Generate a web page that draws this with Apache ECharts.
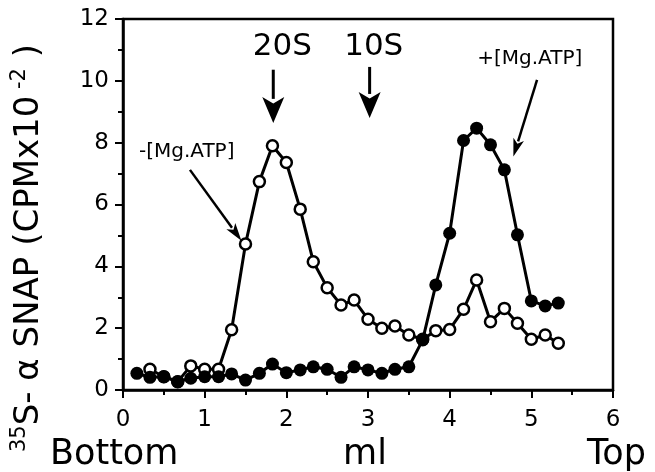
<!DOCTYPE html>
<html>
<head>
<meta charset="utf-8">
<script src="https://cdn.jsdelivr.net/npm/echarts@6/dist/echarts.min.js"></script>
<style>
html,body{margin:0;padding:0;background:#fff;}
#chart{width:655px;height:472px;}
</style>
</head>
<body>
<div id="chart"></div>
<script>
// fraction positions (ml from bottom of gradient)
const fractionMl = [0.17,0.33,0.5,0.67,0.83,1.0,1.17,1.33,1.5,1.67,1.83,2.0,2.17,2.33,2.5,2.67,2.83,3.0,3.17,3.33,3.5,3.67,3.83,4.0,4.17,4.33,4.5,4.67,4.83,5.0,5.17,5.33];
// +[Mg.ATP] (filled circles), CPM x 10^-2
const plusMgATP = [0.54,0.41,0.43,0.27,0.38,0.43,0.43,0.52,0.32,0.54,0.84,0.56,0.65,0.75,0.67,0.41,0.75,0.65,0.54,0.67,0.75,1.62,3.40,5.07,8.07,8.47,7.93,7.12,5.02,2.88,2.72,2.81];
// -[Mg.ATP] (open circles)
const minusMgATP = [null,0.67,0.43,0.27,0.78,0.67,0.67,1.95,4.72,6.74,7.90,7.36,5.85,4.15,3.31,2.75,2.91,2.29,2.00,2.07,1.78,1.64,1.92,1.96,2.61,3.56,2.21,2.64,2.16,1.64,1.78,1.51];
const xTicks = [0,1,2,3,4,5,6];
const yTicks = [0,2,4,6,8,10,12];
// annotations in data units
const markers = [
  {label:'20S', x:1.84, yFrom:10.36, yTo:8.64, tx:1.95, ty:11.1},
  {label:'10S', x:3.02, yFrom:10.45, yTo:8.80, tx:3.07, ty:11.1}
];
const conditionNotes = [
  {label:'-[Mg.ATP]', tx:0.78, ty:7.72, from:[0.82,7.12], to:[1.45,4.83]},
  {label:'+[Mg.ATP]', tx:4.98, ty:10.71, from:[5.07,10.03], to:[4.78,7.55]}
];

const FONT = 'DejaVu Sans';
const chart = echarts.init(document.getElementById('chart'));

function pairs(vals){
  const out = [];
  vals.forEach((v,i)=>{ if(v!==null) out.push([fractionMl[i], v]); });
  return out;
}

chart.setOption({
  animation:false,
  backgroundColor:'#fff',
  grid:{left:123, right:42, top:19, bottom:82, show:true, borderColor:'#000', borderWidth:2.5, backgroundColor:'transparent'},
  xAxis:{
    type:'value', min:xTicks[0], max:xTicks[xTicks.length-1], interval:1,
    axisLine:{show:true, onZero:false, lineStyle:{color:'#000', width:2.5}},
    axisTick:{show:true, inside:false, length:8, lineStyle:{color:'#000', width:2}},
    minorTick:{show:true, splitNumber:2, length:5, lineStyle:{color:'#000', width:2}},
    splitLine:{show:false},
    axisLabel:{color:'#000', fontFamily:FONT, fontSize:23, margin:19}
  },
  yAxis:{
    type:'value', min:yTicks[0], max:yTicks[yTicks.length-1], interval:2,
    axisLine:{show:true, lineStyle:{color:'#000', width:2.5}},
    axisTick:{show:true, inside:false, length:8, lineStyle:{color:'#000', width:2}},
    minorTick:{show:true, splitNumber:2, length:5, lineStyle:{color:'#000', width:2}},
    splitLine:{show:false},
    axisLabel:{color:'#000', fontFamily:FONT, fontSize:23, margin:14}
  },
  series:[
    {
      name:'-[Mg.ATP]', type:'line', data:pairs(minusMgATP), z:2,
      symbol:'circle', symbolSize:11, showAllSymbol:true,
      lineStyle:{color:'#000', width:3},
      itemStyle:{color:'#fff', borderColor:'#000', borderWidth:2.5}
    },
    {
      name:'+[Mg.ATP]', type:'line', data:pairs(plusMgATP), z:3,
      symbol:'circle', symbolSize:13, showAllSymbol:true,
      lineStyle:{color:'#000', width:3},
      itemStyle:{color:'#000', borderColor:'#000', borderWidth:0}
    }
  ]
});

function arrow(from, to, headLen, headW, lw){
  const dx = to[0]-from[0], dy = to[1]-from[1];
  const L = Math.sqrt(dx*dx+dy*dy);
  const ux = dx/L, uy = dy/L;
  const bx = to[0]-ux*headLen, by = to[1]-uy*headLen;
  const px = -uy, py = ux;
  return [
    {type:'line', shape:{x1:from[0], y1:from[1], x2:bx+ux*2, y2:by+uy*2}, style:{stroke:'#000', lineWidth:lw}, z:10},
    {type:'polygon', shape:{points:[[to[0],to[1]],[bx+px*headW/2, by+py*headW/2],[bx+ux*headLen*0.25, by+uy*headLen*0.25],[bx-px*headW/2, by-py*headW/2]]}, style:{fill:'#000'}, z:10}
  ];
}

const g = [];
markers.forEach(m=>{
  const a = chart.convertToPixel({gridIndex:0},[m.x, m.yFrom]);
  const b = chart.convertToPixel({gridIndex:0},[m.x, m.yTo]);
  g.push(...arrow(a,b,26,22,3));
  const t = chart.convertToPixel({gridIndex:0},[m.tx, m.ty]);
  g.push({type:'text', x:t[0], y:t[1], style:{text:m.label, font:'31px "'+FONT+'"', fill:'#000', textAlign:'center', textVerticalAlign:'middle'}, z:10});
});
conditionNotes.forEach(n=>{
  const a = chart.convertToPixel({gridIndex:0}, n.from);
  const b = chart.convertToPixel({gridIndex:0}, n.to);
  g.push(...arrow(a,b,18,11,2.5));
  const t = chart.convertToPixel({gridIndex:0},[n.tx, n.ty]);
  g.push({type:'text', x:t[0], y:t[1], style:{text:n.label, font:'20px "'+FONT+'"', fill:'#000', textAlign:'center', textVerticalAlign:'middle'}, z:10});
});
// axis titles
g.push({type:'text', x:29, y:248, rotation:Math.PI/2,
  style:{text:'{sup|35}S- α SNAP (CPMx10{sup| -2} )', fill:'#000', textAlign:'center', textVerticalAlign:'middle',
    font:'34px "'+FONT+'"',
    rich:{sup:{fontSize:21, fontFamily:FONT, verticalAlign:'top', padding:[0,0,18,0]}}}, z:10});
g.push({type:'text', x:50, y:455, style:{text:'Bottom', font:'35px "'+FONT+'"', fill:'#000', textAlign:'left', textVerticalAlign:'middle'}});
g.push({type:'text', x:365, y:455, style:{text:'ml', font:'35px "'+FONT+'"', fill:'#000', textAlign:'center', textVerticalAlign:'middle'}});
g.push({type:'text', x:646, y:455, style:{text:'Top', font:'35px "'+FONT+'"', fill:'#000', textAlign:'right', textVerticalAlign:'middle'}});
chart.setOption({graphic:g});
</script>
</body>
</html>
